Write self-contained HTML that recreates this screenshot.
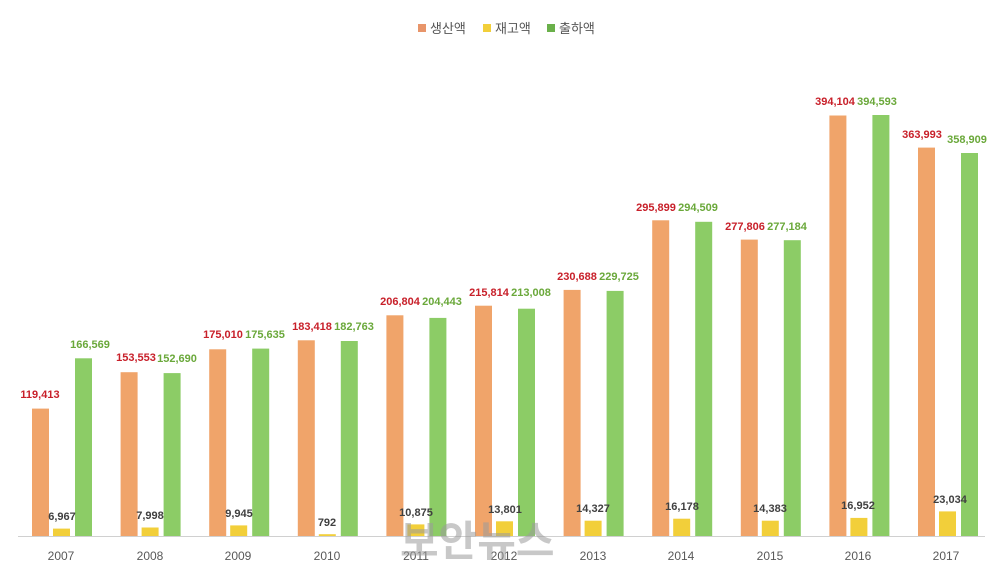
<!DOCTYPE html>
<html><head><meta charset="utf-8"><style>
html,body{margin:0;padding:0;background:#fff;}
svg{display:block;font-family:"Liberation Sans","Noto Sans CJK KR",sans-serif;}
.o{fill:#f0a46a}.y{fill:#f2cf3a}.g{fill:#8ccc66}
.lo{fill:#c8202a;font-size:11px;font-weight:bold;text-anchor:middle}
.ly{fill:#404040;font-size:11px;font-weight:bold;text-anchor:middle}
.lg{fill:#6aa83a;font-size:11px;font-weight:bold;text-anchor:middle}
.yr{fill:#595959;font-size:12px;text-anchor:middle}
</style></head><body>
<svg width="1000" height="577" viewBox="0 0 1000 577">
<rect x="418" y="24" width="8" height="8" fill="#e8956a"/><text x="430" y="33" font-size="13" fill="#555">생산액</text>
<rect x="483" y="24" width="8" height="8" fill="#f2cf3a"/><text x="495" y="33" font-size="13" fill="#555">재고액</text>
<rect x="547" y="24" width="8" height="8" fill="#6ab04a"/><text x="559" y="33" font-size="13" fill="#555">출하액</text>
<line x1="18" y1="536.5" x2="985" y2="536.5" stroke="#d0d0d0" stroke-width="1"/>
<g>
<rect class="o" x="32" y="408.6" width="17" height="127.4"/><rect class="y" x="53" y="528.6" width="17" height="7.4"/><rect class="g" x="75" y="358.3" width="17" height="177.7"/>
<text class="lo" x="40" y="398">119,413</text><text class="ly" x="62" y="520">6,967</text><text class="lg" x="90" y="348">166,569</text><text class="yr" x="61" y="560">2007</text>

<rect class="o" x="120.6" y="372.2" width="17" height="163.8"/><rect class="y" x="141.6" y="527.5" width="17" height="8.5"/><rect class="g" x="163.6" y="373.1" width="17" height="162.9"/>
<text class="lo" x="136" y="361">153,553</text><text class="ly" x="150" y="519">7,998</text><text class="lg" x="177" y="362">152,690</text><text class="yr" x="150" y="560">2008</text>

<rect class="o" x="209.2" y="349.3" width="17" height="186.7"/><rect class="y" x="230.2" y="525.4" width="17" height="10.6"/><rect class="g" x="252.2" y="348.6" width="17" height="187.4"/>
<text class="lo" x="223" y="338">175,010</text><text class="ly" x="239" y="517">9,945</text><text class="lg" x="265" y="338">175,635</text><text class="yr" x="238" y="560">2009</text>

<rect class="o" x="297.8" y="340.3" width="17" height="195.7"/><rect class="y" x="318.8" y="534.2" width="17" height="1.8"/><rect class="g" x="340.8" y="341" width="17" height="195"/>
<text class="lo" x="312" y="330">183,418</text><text class="ly" x="327" y="526">792</text><text class="lg" x="354" y="330">182,763</text><text class="yr" x="327" y="560">2010</text>

<rect class="o" x="386.4" y="315.3" width="17" height="220.7"/><rect class="y" x="407.4" y="524.4" width="17" height="11.6"/><rect class="g" x="429.4" y="317.9" width="17" height="218.1"/>
<text class="lo" x="400" y="305">206,804</text><text class="ly" x="416" y="516">10,875</text><text class="lg" x="442" y="305">204,443</text><text class="yr" x="416" y="560">2011</text>

<rect class="o" x="475" y="305.7" width="17" height="230.3"/><rect class="y" x="496" y="521.3" width="17" height="14.7"/><rect class="g" x="518" y="308.7" width="17" height="227.3"/>
<text class="lo" x="489" y="296">215,814</text><text class="ly" x="505" y="513">13,801</text><text class="lg" x="531" y="296">213,008</text><text class="yr" x="504" y="560">2012</text>

<rect class="o" x="563.6" y="289.9" width="17" height="246.1"/><rect class="y" x="584.6" y="520.7" width="17" height="15.3"/><rect class="g" x="606.6" y="290.9" width="17" height="245.1"/>
<text class="lo" x="577" y="280">230,688</text><text class="ly" x="593" y="512">14,327</text><text class="lg" x="619" y="280">229,725</text><text class="yr" x="593" y="560">2013</text>

<rect class="o" x="652.2" y="220.3" width="17" height="315.7"/><rect class="y" x="673.2" y="518.7" width="17" height="17.3"/><rect class="g" x="695.2" y="221.8" width="17" height="314.2"/>
<text class="lo" x="656" y="211">295,899</text><text class="ly" x="682" y="510">16,178</text><text class="lg" x="698" y="211">294,509</text><text class="yr" x="681" y="560">2014</text>

<rect class="o" x="740.8" y="239.6" width="17" height="296.4"/><rect class="y" x="761.8" y="520.7" width="17" height="15.3"/><rect class="g" x="783.8" y="240.2" width="17" height="295.8"/>
<text class="lo" x="745" y="230">277,806</text><text class="ly" x="770" y="512">14,383</text><text class="lg" x="787" y="230">277,184</text><text class="yr" x="770" y="560">2015</text>

<rect class="o" x="829.4" y="115.5" width="17" height="420.5"/><rect class="y" x="850.4" y="517.9" width="17" height="18.1"/><rect class="g" x="872.4" y="115" width="17" height="421"/>
<text class="lo" x="835" y="105">394,104</text><text class="ly" x="858" y="509">16,952</text><text class="lg" x="877" y="105">394,593</text><text class="yr" x="858" y="560">2016</text>

<rect class="o" x="918" y="147.6" width="17" height="388.4"/><rect class="y" x="939" y="511.4" width="17" height="24.6"/><rect class="g" x="961" y="153" width="17" height="383"/>
<text class="lo" x="922" y="138">363,993</text><text class="ly" x="950" y="503">23,034</text><text class="lg" x="967" y="143">358,909</text><text class="yr" x="946" y="560">2017</text>
</g>
<text x="400" y="556" font-size="42" font-weight="bold" fill="#9a9a9a" fill-opacity="0.55">보안뉴스</text>
</svg>
</body></html>
